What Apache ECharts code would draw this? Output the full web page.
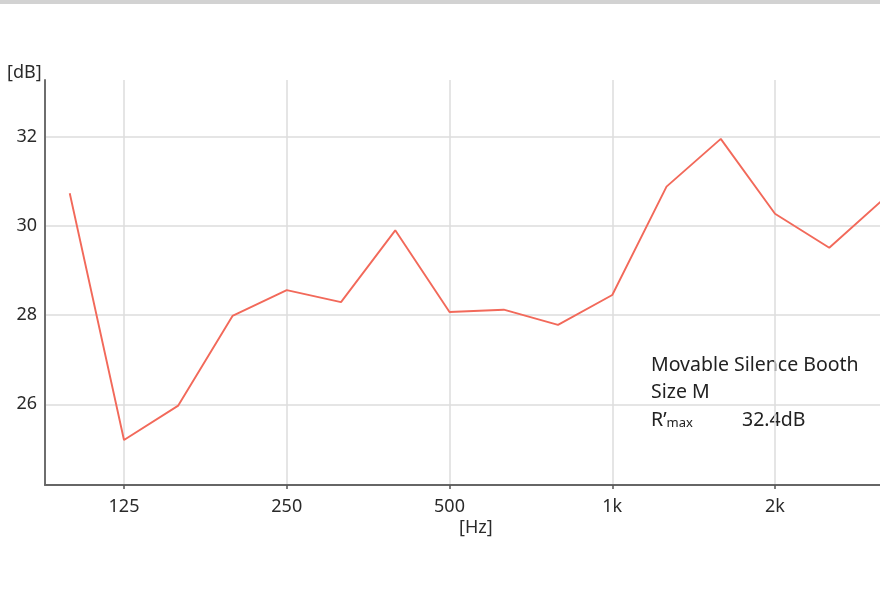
<!DOCTYPE html>
<html>
<head>
<meta charset="utf-8">
<script src="https://cdn.jsdelivr.net/npm/echarts@6/dist/echarts.min.js"></script>
<style>
html,body{margin:0;padding:0;background:#fff;}
#chart{width:880px;height:600px;}
</style>
</head>
<body>
<div id="chart"></div>
<script>
// 1/3-octave band centre frequencies (Hz)
var bands = ['100','125','160','200','250','315','400','500','630','800','1000','1250','1600','2000','2500','3150'];
// Sound reduction values (dB)
var values = [30.73, 25.2, 25.97, 27.98, 28.56, 28.29, 29.9, 28.07, 28.12, 27.78, 28.45, 30.88, 31.95, 30.27, 29.51, 30.6];
// x tick labels (every octave starting at 125 Hz)
var xTickLabels = ['125', '250', '500', '1k', '2k'];
var yTickValues = [26, 28, 30, 32];
var legendLines = ['Movable Silence Booth', 'Size M'];
var rmaxLabel = '32.4dB';

var FONT = '"Noto Sans", "Open Sans", sans-serif';
// position along the axis = band index relative to 125 Hz
var seriesData = values.map(function (v, i) { return [i - 1, v]; });

var chart = echarts.init(document.getElementById('chart'), null, {renderer: 'canvas'});
chart.setOption({
  animation: false,
  backgroundColor: '#ffffff',
  grid: {left: 45, right: 0, top: 80, bottom: 115, containLabel: false},
  xAxis: {
    type: 'value',
    min: -1.456,
    max: 13.935,
    minInterval: 3,
    maxInterval: 3,
    axisLine: {show: true, onZero: false, lineStyle: {color: '#666666', width: 2}},
    axisTick: {show: true, length: 4, lineStyle: {color: '#555555', width: 1.5}},
    axisLabel: {
      show: true, margin: 13, color: '#2a2a2a', fontSize: 18, fontFamily: FONT,
      showMinLabel: false, showMaxLabel: false,
      formatter: function (v) {
        var k = Math.round(v / 3);
        if (Math.abs(v - k * 3) > 1e-6) return '';
        return xTickLabels[k] || '';
      }
    },
    splitLine: {show: true, showMinLine: false, showMaxLine: false, lineStyle: {color: '#dcdcdc', width: 1.5}}
  },
  yAxis: {
    type: 'value',
    min: 24.19,
    max: 33.27,
    minInterval: 2,
    maxInterval: 2,
    axisLine: {show: true, onZero: false, lineStyle: {color: '#6e6e6e', width: 2}},
    axisTick: {show: false},
    axisLabel: {
      show: true, margin: 8, color: '#2a2a2a', fontSize: 18, fontFamily: FONT,
      showMinLabel: false, showMaxLabel: false,
      formatter: function (v) {
        for (var i = 0; i < yTickValues.length; i++) {
          if (Math.abs(v - yTickValues[i]) < 1e-6) return String(yTickValues[i]);
        }
        return '';
      }
    },
    splitLine: {show: true, showMinLine: false, showMaxLine: false, lineStyle: {color: '#dcdcdc', width: 1.5}}
  },
  series: [{
    type: 'line',
    data: seriesData,
    symbol: 'none',
    clip: true,
    lineStyle: {color: '#f2695a', width: 1.9},
    z: 5
  }],
  graphic: [
    {type: 'rect', left: 0, top: 0, shape: {width: 880, height: 4}, style: {fill: '#d2d2d2'}, silent: true},
    {type: 'text', left: 7, top: 64, style: {text: '[dB]', font: '18px ' + FONT, fill: '#2a2a2a'}},
    {type: 'text', left: 459, top: 519, style: {text: '[Hz]', font: '18px ' + FONT, fill: '#2a2a2a'}},
    {type: 'text', left: 651, top: 355, style: {text: legendLines[0], font: '19.5px ' + FONT, fill: '#222222'}},
    {type: 'text', left: 651, top: 382, style: {text: legendLines[1], font: '19.5px ' + FONT, fill: '#222222'}},
    {type: 'text', left: 651, top: 410, style: {
      text: '{r|R\u2019}{s|max}',
      rich: {
        r: {font: '19.5px ' + FONT, fill: '#222222', verticalAlign: 'bottom'},
        s: {font: '13px ' + FONT, fill: '#222222', padding: [9, 0, 0, 0], verticalAlign: 'bottom'}
      }
    }},
    {type: 'text', left: 742, top: 410, style: {text: rmaxLabel, font: '19.5px ' + FONT, fill: '#222222'}}
  ]
});
</script>
</body>
</html>
